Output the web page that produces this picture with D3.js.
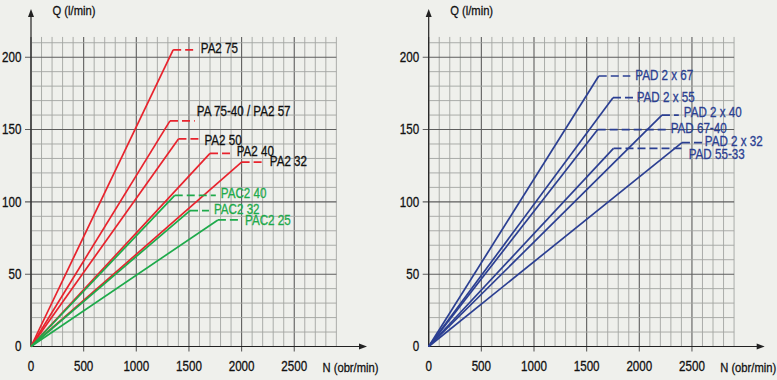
<!DOCTYPE html>
<html><head><meta charset="utf-8">
<script src="https://cdn.jsdelivr.net/npm/d3@7"></script>
<style>
html,body{margin:0;padding:0;background:#eff0ec;}
svg{display:block;}
text{font-family:"Liberation Sans",Arial,sans-serif;}
</style></head>
<body>
<svg id="chart" width="777" height="380"></svg>
<script>
// ---- data ----
const xTicks = [0, 500, 1000, 1500, 2000, 2500];
const yTicks = [0, 50, 100, 150, 200];
const xLabel = "N (obr/min)";
const yLabel = "Q (l/min)";

const leftNames   = ["PA2 75", "PA 75-40 / PA2 57", "PA2 50", "PA2 40", "PA2 32", "PAC2 40", "PAC2 32", "PAC2 25"];
const leftFamily  = ["PA", "PA", "PA", "PA", "PA", "PAC", "PAC", "PAC"];
const leftKneeN   = [1350, 1320, 1400, 1700, 2000, 1365, 1510, 1775];
const leftKneeQ   = [205, 156, 143.5, 133.5, 127.5, 104.5, 94, 87.5];
const leftDashEnd = [1555, 1555, 1600, 1915, 2220, 1755, 1690, 1985];

const rightNames   = ["PAD 2 x 67", "PAD 2 x 55", "PAD 2 x 40", "PAD 67-40", "PAD 2 x 32", "PAD 55-33"];
const rightFamily  = ["PAD", "PAD", "PAD", "PAD", "PAD", "PAD"];
const rightKneeN   = [1615, 1750, 2215, 1605, 2405, 1755];
const rightKneeQ   = [187, 172, 160, 150, 141, 137];
const rightDashEnd = [1915, 1947, 2375, 2265, 2598, 2422];

// ---- layout / style (not data) ----
const leftLabelDx  = [6, 2, 5, 4, 5, 5, 5, 5];
const leftLabelDy  = [3.5, -4.8, 6, 3, 4, 2.7, 3.3, 4.7];
const rightLabelDx = [5, 3, 5, 3.5, 2.5, 5];
const rightLabelDy = [4.3, 4, 2.2, 3.4, 3.7, 10.3];
const lineColor  = {PA: "#e8232d", PAC: "#1eaa4b", PAD: "#2b3f92"};
const labelColor = {PA: "#111", PAC: "#1eaa4b", PAD: "#2b3f92"};
const SX = 0.83; // condensed type

const svg = d3.select("#chart");

function txt(g, x, y, s, opts) {
  const fill = opts.fill || "#111";
  const t = g.append("text")
    .attr("transform", `translate(${x},${y}) scale(${SX},1)`)
    .attr("font-size", opts.size || 14)
    .attr("fill", fill)
    .attr("stroke", fill).attr("stroke-width", 0.3)
    .attr("text-anchor", opts.anchor || "start")
    .text(s);
  if (opts.dy) t.attr("dy", opts.dy);
  return t;
}

function drawChart(ox, names, fam, kn, kq, de, ldx, ldy) {
  const x = d3.scaleLinear().domain([0, 2900]).range([ox, ox + 2900 * 0.1053]);
  const y = d3.scaleLinear().domain([0, 210]).range([346.5, 346.5 - 210 * 1.4465]);
  const g = svg.append("g");

  // grid
  const vLines = d3.range(0, 2901, 100);
  const hLines = d3.range(0, 211, 10);
  g.selectAll(".v").data(vLines).join("line")
    .attr("x1", d => x(d)).attr("x2", d => x(d))
    .attr("y1", d => d % 500 === 0 && d > 0 ? y(0) + 5 : y(0)).attr("y2", y(214))
    .attr("stroke", d => d % 500 === 0 ? "#5e5e5e" : "#a3a5a2")
    .attr("stroke-width", d => d % 500 === 0 ? 1.1 : 0.9);
  g.selectAll(".h").data(hLines).join("line")
    .attr("x1", d => d % 50 === 0 && d > 0 ? x(0) - 6 : x(0)).attr("x2", x(2900))
    .attr("y1", d => y(d)).attr("y2", d => y(d))
    .attr("stroke", d => d % 50 === 0 ? "#5e5e5e" : "#a3a5a2")
    .attr("stroke-width", d => d % 50 === 0 ? 1.1 : 0.9);

  // axes lines + arrows
  g.append("line").attr("x1", x(0)).attr("x2", x(0)).attr("y1", y(0)).attr("y2", 14)
    .attr("stroke", "#222").attr("stroke-width", 1.2);
  g.append("path").attr("d", `M${x(0)},9 L${x(0) - 3},17 L${x(0) + 3},17 Z`).attr("fill", "#222");
  const xEnd = x(0) + 336;
  g.append("line").attr("x1", x(0)).attr("x2", xEnd - 4).attr("y1", y(0)).attr("y2", y(0))
    .attr("stroke", "#222").attr("stroke-width", 1.2);
  g.append("path").attr("d", `M${xEnd},${y(0)} L${xEnd - 8},${y(0) - 3} L${xEnd - 8},${y(0) + 3} Z`).attr("fill", "#222");

  // tick labels
  xTicks.forEach(d => txt(g, x(d), 370.5, d, {anchor: "middle"}));
  yTicks.forEach(d => txt(g, x(0) - 9.5, y(d), d, {anchor: "end", dy: "0.35em"}));
  txt(g, x(0) + 21.5, 15, yLabel, {size: 13.5});
  txt(g, x(0) + 291.5, 371.5, xLabel, {size: 13.5});

  // series
  const idx = d3.range(names.length);
  g.selectAll(".ln").data(idx).join("path")
    .attr("d", i => d3.line()([[x(0), y(0)], [x(kn[i]), y(kq[i])]]))
    .attr("fill", "none").attr("stroke", i => lineColor[fam[i]]).attr("stroke-width", 1.7);
  g.selectAll(".ds").data(idx).join("line")
    .attr("x1", i => x(kn[i])).attr("x2", i => x(de[i]))
    .attr("y1", i => y(kq[i])).attr("y2", i => y(kq[i]))
    .attr("stroke", i => lineColor[fam[i]]).attr("stroke-width", 1.7)
    .attr("stroke-dasharray", "8,4");
  idx.forEach(i => txt(g, x(de[i]) + ldx[i], y(kq[i]) + ldy[i], names[i], {fill: labelColor[fam[i]]}));
}

drawChart(31, leftNames, leftFamily, leftKneeN, leftKneeQ, leftDashEnd, leftLabelDx, leftLabelDy);
drawChart(428.7, rightNames, rightFamily, rightKneeN, rightKneeQ, rightDashEnd, rightLabelDx, rightLabelDy);
</script>
</body></html>
